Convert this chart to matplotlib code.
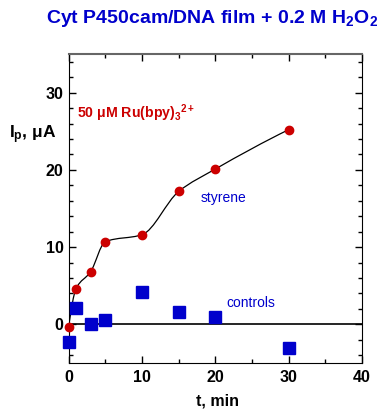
import numpy as np
import matplotlib
matplotlib.use("Agg")
import matplotlib.pyplot as plt
from matplotlib.path import Path
from matplotlib.patches import PathPatch

plt.rcParams['font.family'] = ['Liberation Sans', 'DejaVu Sans']
plt.rcParams['mathtext.fontset'] = 'custom'
plt.rcParams['mathtext.rm'] = 'Liberation Sans:bold'
plt.rcParams['mathtext.it'] = 'Liberation Sans:bold'
plt.rcParams['mathtext.bf'] = 'Liberation Sans:bold'

# data
t_styrene = [0, 1, 3, 5, 10, 15, 20, 30]
ip_styrene = [-0.35, 4.6, 6.8, 10.7, 11.6, 17.2, 20.1, 25.2]
t_controls = [0, 1, 3, 5, 10, 15, 20, 30]
ip_controls = [-2.3, 2.15, 0.0, 0.55, 4.2, 1.55, 0.9, -3.0]
baseline_t = [0, 40]
baseline_ip = [0, 0]

red = '#cc0000'
blue = '#0000cc'


def pchip_slopes(x, y):
    # shape preserving slopes (Fritsch-Carlson)
    h = np.diff(x)
    d = np.diff(y) / h
    m = np.zeros_like(y)
    for k in range(1, len(x) - 1):
        if d[k - 1] * d[k] > 0:
            w1 = 2 * h[k] + h[k - 1]
            w2 = h[k] + 2 * h[k - 1]
            m[k] = (w1 + w2) / (w1 / d[k - 1] + w2 / d[k])
    m[0] = ((2 * h[0] + h[1]) * d[0] - h[0] * d[1]) / (h[0] + h[1])
    m[-1] = ((2 * h[-1] + h[-2]) * d[-1] - h[-1] * d[-2]) / (h[-1] + h[-2])
    return m


fig = plt.figure(figsize=(3.79, 4.09), dpi=100)
ax = fig.add_axes([0.181, 0.1125, 0.774, 0.7555])

# smooth curve through the styrene points (cubic Hermite as bezier segments)
x = np.array(t_styrene, dtype=float)
y = np.array(ip_styrene, dtype=float)
m = pchip_slopes(x, y)
verts = [(x[0], y[0])]
codes = [Path.MOVETO]
for i in range(len(x) - 1):
    h = x[i + 1] - x[i]
    verts += [(x[i] + h / 3, y[i] + m[i] * h / 3),
              (x[i + 1] - h / 3, y[i + 1] - m[i + 1] * h / 3),
              (x[i + 1], y[i + 1])]
    codes += [Path.CURVE4] * 3
ax.add_patch(PathPatch(Path(verts, codes), facecolor='none', edgecolor='black', lw=0.9, zorder=2))

ax.plot(baseline_t, baseline_ip, color='black', lw=1.2, zorder=2)
ax.plot(t_controls, ip_controls, 's', color=blue, markersize=8, zorder=3, clip_on=False)
ax.plot(t_styrene, ip_styrene, 'o', color=red, markersize=6, zorder=4, clip_on=False)

ax.set_xlim(0, 40)
ax.set_ylim(-5, 35)
ax.set_xticks([0, 10, 20, 30, 40])
ax.set_xticks([5, 15, 25, 35], minor=True)
ax.set_yticks([0, 10, 20, 30])
ax.set_yticks(np.arange(-4, 35, 2), minor=True)
ax.tick_params(which='both', direction='in', top=True, right=True, labelsize=11.5)
ax.tick_params(which='major', length=5, width=1)
ax.tick_params(axis='x', which='major', pad=5)
ax.tick_params(which='minor', length=3, width=1)
for lab in ax.get_xticklabels() + ax.get_yticklabels():
    lab.set_fontweight('bold')
ax.spines['top'].set_color('#666666')
ax.spines['top'].set_linewidth(1.5)

fig.text(0.574, 0.019, 't, min', ha='center', va='center', fontsize=11.5, fontweight='bold')
ax.text(-0.121, 0.738, r'I$_p$, μA', transform=ax.transAxes, ha='center', va='center',
        fontsize=12.5, fontweight='bold')

fig.text(0.56, 0.955, r'Cyt P450cam/DNA film + 0.2 M H$_2$O$_2$', ha='center', va='center',
         fontsize=14, fontweight='bold', color=blue)
ax.text(1.1, 26.7, r'50 μM Ru(bpy)$_3$$^{2+}$', fontsize=10.2, fontweight='bold', color=red)
ax.text(18, 15.8, 'styrene', fontsize=10, color=blue)
ax.text(21.5, 2.2, 'controls', fontsize=10, color=blue)

fig.savefig('out.png', dpi=100)
